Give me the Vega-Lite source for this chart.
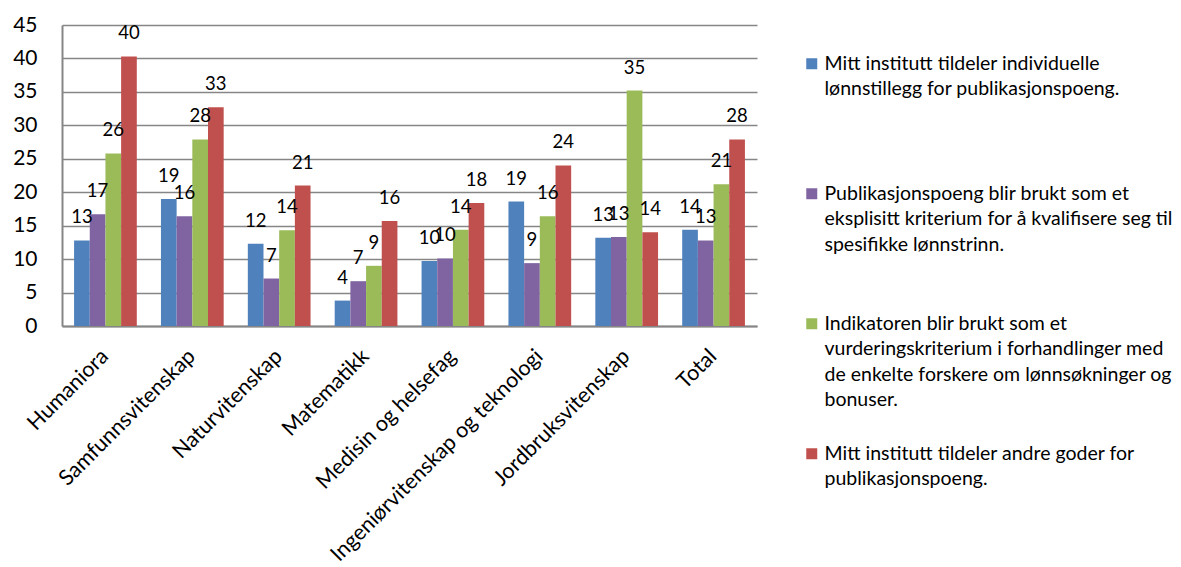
{
  "$schema": "https://vega.github.io/schema/vega-lite/v6.json",
  "width": 695,
  "height": 301,
  "autosize": {"type": "none"},
  "padding": {"left": 62, "top": 25, "right": 424, "bottom": 241},
  "background": "white",
  "config": {
    "font": "Lato",
    "view": {"stroke": null},
    "axis": {"labelFont": "Lato", "labelColor": "#000000"},
    "style": {"guide-label": {"lineHeight": 25.5}}
  },
  "data": {
    "values": [
      {"field": "Humaniora", "series": "Mitt institutt tildeler individuelle\nlønnstillegg for publikasjonspoeng.", "value": 12.8},
      {"field": "Humaniora", "series": "Publikasjonspoeng blir brukt som et\neksplisitt kriterium for å kvalifisere seg til\nspesifikke lønnstrinn.", "value": 16.7},
      {"field": "Humaniora", "series": "Indikatoren blir brukt som et\nvurderingskriterium i forhandlinger med\nde enkelte forskere om lønnsøkninger og\nbonuser.", "value": 25.8},
      {"field": "Humaniora", "series": "Mitt institutt tildeler andre goder for\npublikasjonspoeng.", "value": 40.3},
      {"field": "Samfunnsvitenskap", "series": "Mitt institutt tildeler individuelle\nlønnstillegg for publikasjonspoeng.", "value": 19.0},
      {"field": "Samfunnsvitenskap", "series": "Publikasjonspoeng blir brukt som et\neksplisitt kriterium for å kvalifisere seg til\nspesifikke lønnstrinn.", "value": 16.4},
      {"field": "Samfunnsvitenskap", "series": "Indikatoren blir brukt som et\nvurderingskriterium i forhandlinger med\nde enkelte forskere om lønnsøkninger og\nbonuser.", "value": 27.9},
      {"field": "Samfunnsvitenskap", "series": "Mitt institutt tildeler andre goder for\npublikasjonspoeng.", "value": 32.7},
      {"field": "Naturvitenskap", "series": "Mitt institutt tildeler individuelle\nlønnstillegg for publikasjonspoeng.", "value": 12.3},
      {"field": "Naturvitenskap", "series": "Publikasjonspoeng blir brukt som et\neksplisitt kriterium for å kvalifisere seg til\nspesifikke lønnstrinn.", "value": 7.1},
      {"field": "Naturvitenskap", "series": "Indikatoren blir brukt som et\nvurderingskriterium i forhandlinger med\nde enkelte forskere om lønnsøkninger og\nbonuser.", "value": 14.3},
      {"field": "Naturvitenskap", "series": "Mitt institutt tildeler andre goder for\npublikasjonspoeng.", "value": 21.0},
      {"field": "Matematikk", "series": "Mitt institutt tildeler individuelle\nlønnstillegg for publikasjonspoeng.", "value": 3.8},
      {"field": "Matematikk", "series": "Publikasjonspoeng blir brukt som et\neksplisitt kriterium for å kvalifisere seg til\nspesifikke lønnstrinn.", "value": 6.7},
      {"field": "Matematikk", "series": "Indikatoren blir brukt som et\nvurderingskriterium i forhandlinger med\nde enkelte forskere om lønnsøkninger og\nbonuser.", "value": 9.0},
      {"field": "Matematikk", "series": "Mitt institutt tildeler andre goder for\npublikasjonspoeng.", "value": 15.7},
      {"field": "Medisin og helsefag", "series": "Mitt institutt tildeler individuelle\nlønnstillegg for publikasjonspoeng.", "value": 9.7},
      {"field": "Medisin og helsefag", "series": "Publikasjonspoeng blir brukt som et\neksplisitt kriterium for å kvalifisere seg til\nspesifikke lønnstrinn.", "value": 10.1},
      {"field": "Medisin og helsefag", "series": "Indikatoren blir brukt som et\nvurderingskriterium i forhandlinger med\nde enkelte forskere om lønnsøkninger og\nbonuser.", "value": 14.4},
      {"field": "Medisin og helsefag", "series": "Mitt institutt tildeler andre goder for\npublikasjonspoeng.", "value": 18.4},
      {"field": "Ingeniørvitenskap og teknologi", "series": "Mitt institutt tildeler individuelle\nlønnstillegg for publikasjonspoeng.", "value": 18.6},
      {"field": "Ingeniørvitenskap og teknologi", "series": "Publikasjonspoeng blir brukt som et\neksplisitt kriterium for å kvalifisere seg til\nspesifikke lønnstrinn.", "value": 9.4},
      {"field": "Ingeniørvitenskap og teknologi", "series": "Indikatoren blir brukt som et\nvurderingskriterium i forhandlinger med\nde enkelte forskere om lønnsøkninger og\nbonuser.", "value": 16.4},
      {"field": "Ingeniørvitenskap og teknologi", "series": "Mitt institutt tildeler andre goder for\npublikasjonspoeng.", "value": 24.0},
      {"field": "Jordbruksvitenskap", "series": "Mitt institutt tildeler individuelle\nlønnstillegg for publikasjonspoeng.", "value": 13.2},
      {"field": "Jordbruksvitenskap", "series": "Publikasjonspoeng blir brukt som et\neksplisitt kriterium for å kvalifisere seg til\nspesifikke lønnstrinn.", "value": 13.3},
      {"field": "Jordbruksvitenskap", "series": "Indikatoren blir brukt som et\nvurderingskriterium i forhandlinger med\nde enkelte forskere om lønnsøkninger og\nbonuser.", "value": 35.2},
      {"field": "Jordbruksvitenskap", "series": "Mitt institutt tildeler andre goder for\npublikasjonspoeng.", "value": 14.0},
      {"field": "Total", "series": "Mitt institutt tildeler individuelle\nlønnstillegg for publikasjonspoeng.", "value": 14.4},
      {"field": "Total", "series": "Publikasjonspoeng blir brukt som et\neksplisitt kriterium for å kvalifisere seg til\nspesifikke lønnstrinn.", "value": 12.8},
      {"field": "Total", "series": "Indikatoren blir brukt som et\nvurderingskriterium i forhandlinger med\nde enkelte forskere om lønnsøkninger og\nbonuser.", "value": 21.2},
      {"field": "Total", "series": "Mitt institutt tildeler andre goder for\npublikasjonspoeng.", "value": 27.9}
    ]
  },
  "encoding": {
    "x": {
      "field": "field",
      "type": "nominal",
      "sort": null,
      "scale": {"paddingInner": 0.278, "paddingOuter": 0.139},
      "axis": {
        "title": null,
        "labelAngle": -45,
        "labelAlign": "right",
        "labelBaseline": "middle",
        "labelFontSize": 21.5,
        "labelPadding": 27,
        "ticks": false,
        "domainColor": "#868686",
        "domainWidth": 2,
        "labelLimit": 400
      }
    },
    "xOffset": {
      "field": "series",
      "type": "nominal",
      "sort": [
        "Mitt institutt tildeler individuelle\nlønnstillegg for publikasjonspoeng.",
        "Publikasjonspoeng blir brukt som et\neksplisitt kriterium for å kvalifisere seg til\nspesifikke lønnstrinn.",
        "Indikatoren blir brukt som et\nvurderingskriterium i forhandlinger med\nde enkelte forskere om lønnsøkninger og\nbonuser.",
        "Mitt institutt tildeler andre goder for\npublikasjonspoeng."
      ],
      "scale": {"paddingInner": 0, "paddingOuter": 0}
    },
    "y": {
      "field": "value",
      "type": "quantitative",
      "scale": {"domain": [0, 45], "nice": false},
      "axis": {
        "title": null,
        "values": [0, 5, 10, 15, 20, 25, 30, 35, 40, 45],
        "labelFontSize": 21,
        "labelPadding": 25,
        "ticks": false,
        "grid": true,
        "gridColor": "#868686",
        "gridWidth": 1.5,
        "domainColor": "#868686",
        "domainWidth": 2
      }
    }
  },
  "layer": [
    {
      "mark": {"type": "bar"},
      "encoding": {
        "color": {
          "field": "series",
          "type": "nominal",
          "scale": {
            "domain": [
              "Mitt institutt tildeler individuelle\nlønnstillegg for publikasjonspoeng.",
              "Publikasjonspoeng blir brukt som et\neksplisitt kriterium for å kvalifisere seg til\nspesifikke lønnstrinn.",
              "Indikatoren blir brukt som et\nvurderingskriterium i forhandlinger med\nde enkelte forskere om lønnsøkninger og\nbonuser.",
              "Mitt institutt tildeler andre goder for\npublikasjonspoeng."
            ],
            "range": ["#4F81BD", "#8064A2", "#9BBB59", "#C0504D"]
          },
          "legend": {
            "title": null,
            "orient": "none",
            "legendX": 740,
            "legendY": 29,
            "symbolType": "square",
            "symbolSize": 121,
            "symbolStrokeWidth": 0,
            "labelFont": "Lato",
            "labelFontSize": 19.5,
            "labelBaseline": "middle",
            "labelColor": "#000000",
            "labelOffset": 3,
            "labelLimit": 420,
            "labelExpr": "split(datum.label, '\\n')",
            "gridAlign": "all",
            "rowPadding": 33
          }
        }
      }
    },
    {
      "mark": {"type": "text", "baseline": "middle", "dy": -23, "fontSize": 18.5, "font": "Lato", "color": "#000000"},
      "encoding": {
        "text": {"field": "value", "type": "quantitative", "format": ".0f"}
      }
    }
  ]
}
